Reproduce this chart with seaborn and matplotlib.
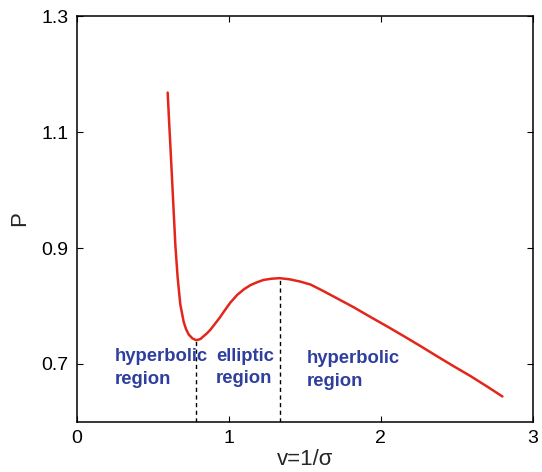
import matplotlib
matplotlib.use("Agg")
import matplotlib.pyplot as plt
import seaborn as sns
import pandas as pd

# Data
v = [0.597, 0.606, 0.615, 0.626, 0.637, 0.648, 0.663, 0.680, 0.702, 0.718,
     0.735, 0.760, 0.786, 0.812, 0.856, 0.878, 0.940, 0.966, 1.010, 1.054,
     1.100, 1.142, 1.186, 1.229, 1.280, 1.333, 1.400, 1.471, 1.537, 1.620,
     1.713, 1.820, 1.932, 2.040, 2.151, 2.260, 2.372, 2.480, 2.591, 2.700, 2.800]
P = [1.168, 1.120, 1.075, 1.018, 0.960, 0.903, 0.848, 0.803, 0.773, 0.760,
     0.751, 0.744, 0.741, 0.743, 0.753, 0.759, 0.780, 0.790, 0.806, 0.819,
     0.829, 0.836, 0.841, 0.845, 0.847, 0.848, 0.846, 0.842, 0.837, 0.826,
     0.813, 0.798, 0.781, 0.765, 0.748, 0.731, 0.713, 0.696, 0.679, 0.661, 0.644]

boundary_v = [0.786, 1.337]
boundary_P = [0.741, 0.848]

region_labels = ["hyperbolic\nregion", "elliptic\nregion", "hyperbolic\nregion"]
region_x = [0.25, 0.916, 1.515]
region_y = [0.693, 0.694, 0.690]

xticks = [0, 1, 2, 3]
yticks = [0.7, 0.9, 1.1, 1.3]

sns.set_style("ticks")
plt.rcParams['font.family'] = ['Liberation Sans', 'DejaVu Sans']

fig = plt.figure(figsize=(5.42, 4.72), dpi=100)
ax = fig.add_axes([0.142, 0.106, 0.841, 0.860])

df = pd.DataFrame({"v": v, "P": P})
sns.lineplot(data=df, x="v", y="P", ax=ax, color="#e3261b", linewidth=1.8, sort=False)

for bx, by in zip(boundary_v, boundary_P):
    ax.plot([bx, bx], [0.6, by], color="black", linestyle=(0, (3, 2.5)), linewidth=1.0)

for lab, tx, ty in zip(region_labels, region_x, region_y):
    ax.text(tx, ty, lab, color="#2e3f9e", fontsize=13.3, fontweight="bold",
            ha="left", va="center", linespacing=1.45)

ax.set_xlim(0, 3)
ax.set_ylim(0.6, 1.3)
ax.set_xticks(xticks)
ax.set_xticklabels([str(t) for t in xticks])
ax.set_yticks(yticks)
ax.set_yticklabels([f"{t:.1f}" for t in yticks])
ax.tick_params(direction="in", length=4, width=0.8, top=True, right=True,
               labelsize=14, pad=6, colors="black")
for s in ax.spines.values():
    s.set_linewidth(1.1)
    s.set_color("black")

ax.set_xlabel("v=1/σ", fontsize=16, labelpad=1)
ax.set_ylabel("P", fontsize=16, labelpad=8)

fig.savefig("out.png", dpi=100)
